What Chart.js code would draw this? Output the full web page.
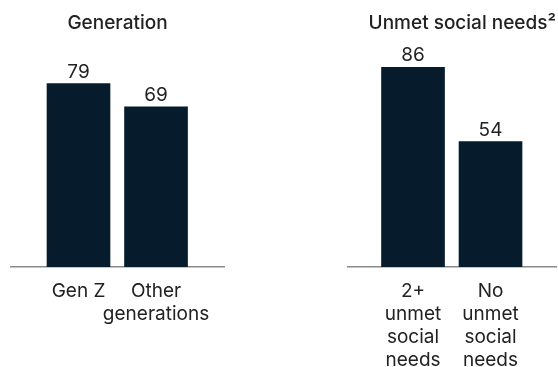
<!DOCTYPE html>
<html>
<head>
<meta charset="utf-8">
<script src="https://cdn.jsdelivr.net/npm/chart.js@4"></script>
<style>
  html, body { margin: 0; padding: 0; background: #fff; }
  .panel { position: absolute; top: 0; width: 279px; height: 367px; }
  #leftPanel { left: 0; }
  #rightPanel { left: 279px; }
</style>
</head>
<body>
<div class="panel" id="leftPanel"><canvas id="genChart"></canvas></div>
<div class="panel" id="rightPanel"><canvas id="needsChart"></canvas></div>
<script>
'use strict';

let genTitle = 'Generation';
let genLabels = [['Gen Z'], ['Other', 'generations']];
let genValues = [79, 69];

let needsTitle = 'Unmet social needs²';
let needsLabels = [['2+', 'unmet', 'social', 'needs'], ['No', 'unmet', 'social', 'needs']];
let needsValues = [86, 54];

let barColor = '#061c2c';
let textColor = '#222222';

Chart.defaults.font.family = 'Inter, "Liberation Sans", sans-serif';
Chart.defaults.color = textColor;

// number above each bar
let valueLabels = {
    id: 'valueLabels',
    afterDatasetsDraw(chart) {
        let ctx = chart.ctx;
        let meta = chart.getDatasetMeta(0);
        ctx.save();
        ctx.font = '19px Inter, "Liberation Sans", sans-serif';
        ctx.fillStyle = textColor;
        ctx.textAlign = 'center';
        ctx.textBaseline = 'alphabetic';
        meta.data.forEach(function (bar, i) {
            ctx.fillText(chart.data.datasets[0].data[i].y, bar.x, bar.y - 6);
        });
        ctx.restore();
    }
};

function makeChart(id, title, labels, values, xMin, xMax, pad, titleAlign) {
    let ctx = document.getElementById(id).getContext('2d');
    return new Chart(ctx, {
        type: 'bar',
        data: {
            datasets: [{
                data: values.map(function (v, i) { return { x: i, y: v }; }),
                backgroundColor: barColor,
                borderWidth: 0,
                barThickness: 63
            }]
        },
        options: {
            responsive: true,
            maintainAspectRatio: false,
            animation: false,
            events: [],
            layout: { padding: pad },
            plugins: {
                legend: { display: false },
                tooltip: { enabled: false },
                title: {
                    display: true,
                    text: title,
                    align: titleAlign,
                    color: textColor,
                    font: { size: 19, weight: '500', lineHeight: 1.2 },
                    padding: { top: 12, bottom: 0 }
                }
            },
            scales: {
                x: {
                    type: 'linear',
                    min: xMin,
                    max: xMax,
                    offset: false,
                    bounds: 'data',
                    grid: { display: false, offset: false },
                    border: { display: true, color: '#8a8a8a', width: 1.5 },
                    afterBuildTicks: function (scale) {
                        scale.ticks = labels.map(function (l, i) { return { value: i }; });
                    },
                    afterFit: function (scale) {
                        scale.height = 100;
                    },
                    ticks: {
                        padding: 5,
                        color: textColor,
                        font: { size: 19, lineHeight: 1.2 },
                        maxRotation: 0,
                        autoSkip: false,
                        callback: function (value) {
                            return labels[value];
                        }
                    }
                },
                y: {
                    display: false,
                    min: 0,
                    max: 100
                }
            }
        },
        plugins: [valueLabels]
    });
}

makeChart('genChart', genTitle, genLabels, genValues, -0.871, 1.877,
    { left: 11, right: 55, top: 0, bottom: 0 }, 'center');
makeChart('needsChart', needsTitle, needsLabels, needsValues, -0.839, 1.845,
    { left: 69, right: 2, top: 0, bottom: 0 }, 'end');
</script>
</body>
</html>
